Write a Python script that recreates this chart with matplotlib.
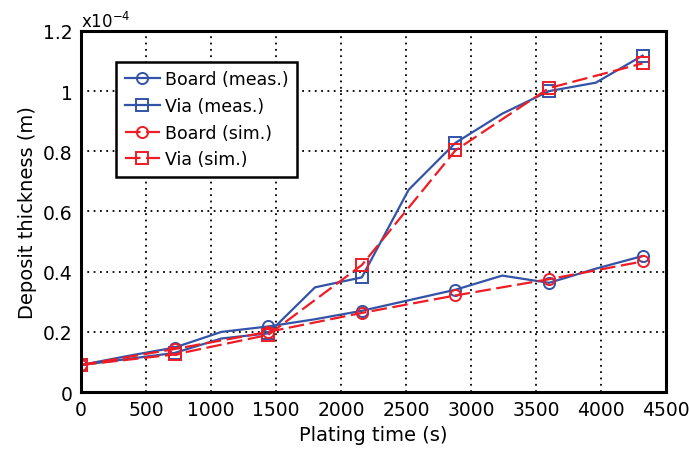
import numpy as np
import matplotlib.pyplot as plt
from matplotlib.ticker import FuncFormatter

# measured values every 360 s, markers every 720 s (thickness in 1e-4 m)
t_meas = [0, 360, 720, 1080, 1440, 1800, 2160, 2520, 2880, 3240, 3600, 3960, 4320]
board_meas = [0.09, 0.12, 0.148, 0.2, 0.218, 0.242, 0.27, 0.305, 0.34, 0.387, 0.363, 0.41, 0.452]
via_meas = [0.09, 0.11, 0.13, 0.178, 0.195, 0.348, 0.381, 0.672, 0.828, 0.925, 1.0, 1.028, 1.118]
mark_idx = [0, 2, 4, 6, 8, 10, 12]

# simulated values
t_sim = [0, 720, 1440, 2160, 2880, 3600, 4320]
board_sim = [0.09, 0.143, 0.2, 0.263, 0.321, 0.375, 0.434]
via_sim = [0.09, 0.125, 0.19, 0.422, 0.803, 1.01, 1.092]

blue = '#3353a6'
red = '#ee1c25'

fig = plt.figure(figsize=(6.89, 4.56), dpi=100)
ax = fig.add_axes([0.1176, 0.138, 0.849, 0.792])

ax.plot(t_meas, board_meas, '-', color=blue, lw=1.6, marker='o', markevery=mark_idx,
        ms=8, mfc='none', mew=1.4, label='Board (meas.)')
ax.plot(t_meas, via_meas, '-', color=blue, lw=1.6, marker='s', markevery=mark_idx,
        ms=8, mfc='none', mew=1.4, label='Via (meas.)')
ax.plot(t_sim, board_sim, '--', color=red, lw=1.6, dashes=(7, 2.5), marker='o',
        ms=8, mfc='none', mew=1.4, label='Board (sim.)')
ax.plot(t_sim, via_sim, '--', color=red, lw=1.6, dashes=(7, 2.5), marker='s',
        ms=8, mfc='none', mew=1.4, label='Via (sim.)')

ax.set_xlim(0, 4500)
ax.set_ylim(0, 1.2)
ax.set_xticks(np.arange(0, 4501, 500))
ax.set_yticks(np.arange(0, 1.21, 0.2))
ax.yaxis.set_major_formatter(FuncFormatter(lambda v, p: '%g' % round(v, 2)))
ax.grid(True, color='black', linestyle=(0, (1, 2.5)), lw=1.3)
ax.tick_params(direction='in', length=0, labelsize=13.5, pad=6)
for s in ax.spines.values():
    s.set_linewidth(2.2)

ax.set_xlabel('Plating time (s)', fontsize=14)
ax.set_ylabel('Deposit thickness (m)', fontsize=14)
ax.text(0.0, 1.0, 'x10$^{-4}$', transform=ax.transAxes, fontsize=12,
        ha='left', va='bottom')

leg = ax.legend(loc='upper left', bbox_to_anchor=(0.06, 0.915), borderaxespad=0,
                fontsize=12.5, fancybox=False, edgecolor='black', framealpha=1,
                handlelength=2.0, handletextpad=0.3, labelspacing=0.5,
                borderpad=0.5)
leg.get_frame().set_linewidth(1.8)

fig.savefig('out.png', dpi=100)
